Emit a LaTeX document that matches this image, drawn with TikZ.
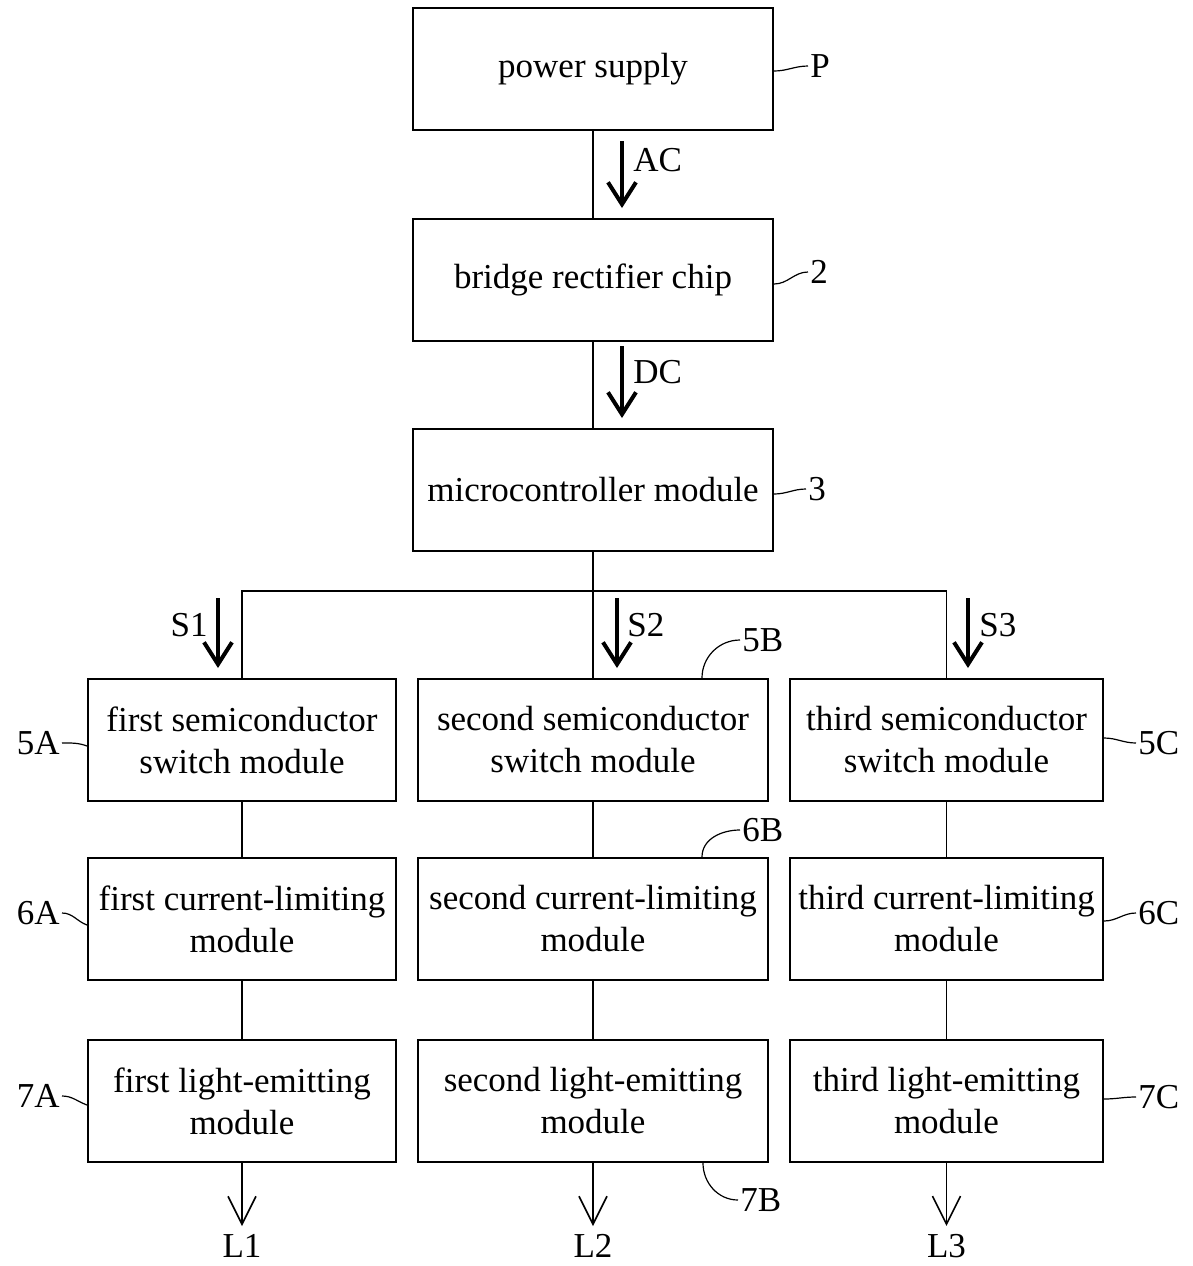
\documentclass[tikz,border=0pt]{standalone}
\usepackage{fontspec}
\setmainfont{Liberation Serif}
\usetikzlibrary{arrows.meta}
\begin{document}
\begin{tikzpicture}[x=0.5pt,y=-0.5pt,
  txt/.style={font=\fontsize{17.5}{21}\selectfont},
  box/.style={txt,draw,line width=1pt,minimum height=61pt,align=center,inner sep=0pt},
  topbox/.style={box,minimum width=180pt},
  boxA/.style={box,minimum width=154pt},
  boxB/.style={box,minimum width=175pt},
  boxC/.style={box,minimum width=156.5pt},
  conn/.style={line width=0.6pt},
  sig/.style={line width=2pt,-{Straight Barb[length=11pt,width=14pt,line width=2pt]}},
  outarr/.style={line width=0.7pt,-{Straight Barb[length=14pt,width=14pt,line width=0.8pt]}},
  lead/.style={line width=0.6pt},
  lbl/.style={txt,inner sep=1pt}]
\useasboundingbox (0,0) rectangle (1193,1266);

% top chain
\node[topbox] (psu) at (593,69) {power supply};
\node[topbox] (brc) at (593,280) {bridge rectifier chip};
\node[topbox] (mcu) at (593,490) {microcontroller module};
\draw[conn] (psu.south) -- (brc.north);
\draw[conn] (brc.south) -- (mcu.north);

% columns
\node[boxA] (sA) at (242,740) {first semiconductor\\switch module};
\node[boxB] (sB) at (593,740) {second semiconductor\\switch module};
\node[boxC] (sC) at (946.5,740) {third semiconductor\\switch module};
\node[boxA] (cA) at (242,919) {first current-limiting\\module};
\node[boxB] (cB) at (593,919) {second current-limiting\\module};
\node[boxC] (cC) at (946.5,919) {third current-limiting\\module};
\node[boxA] (eA) at (242,1101) {first light-emitting\\module};
\node[boxB] (eB) at (593,1101) {second light-emitting\\module};
\node[boxC] (eC) at (946.5,1101) {third light-emitting\\module};

% branch
\coordinate (br) at (593,591);
\draw[conn] (mcu.south) -- (br);
\draw[conn] (sA.north) |- (br) -| (sC.north);
\draw[conn] (br) -- (sB.north);
\foreach \c in {A,B,C}{
  \draw[conn] (s\c.south) -- (c\c.north);
  \draw[conn] (c\c.south) -- (e\c.north);
}

% signal arrows
\draw[sig] (622,141) -- (622,208);
\node[lbl,anchor=west] (tAC) at (631,160) {AC};
\draw[sig] (622,346) -- (622,418);
\node[lbl,anchor=west] (tDC) at (631,372) {DC};
\draw[sig] (218,598) -- (218,668);
\node[lbl,anchor=east] (tS1) at (210,625) {S1};
\draw[sig] (617,598) -- (617,668);
\node[lbl,anchor=west] (tS2) at (625,625) {S2};
\draw[sig] (968,598) -- (968,668);
\node[lbl,anchor=west] (tS3) at (977,625) {S3};

% outputs
\node[lbl] (L1) at (242,1246) {L1};
\node[lbl] (L2) at (593,1246) {L2};
\node[lbl] (L3) at (946.5,1246) {L3};
\draw[outarr] (eA.south) -- ([yshift=3pt]L1.north);
\draw[outarr] (eB.south) -- ([yshift=3pt]L2.north);
\draw[outarr] (eC.south) -- ([yshift=3pt]L3.north);

% reference labels
\node[lbl,anchor=west] (rP) at (808,66) {P};
\draw[lead] ([yshift=-1pt]psu.east) to[out=0,in=180] (rP.west);
\node[lbl,anchor=west] (r2) at (808,272) {2};
\draw[lead] ([yshift=-2pt]brc.east) to[out=0,in=180] (r2.west);
\node[lbl,anchor=west] (r3) at (806,489) {3};
\draw[lead] ([yshift=-2pt]mcu.east) to[out=0,in=180] (r3.west);

\node[lbl,anchor=east] (r5A) at (62,743) {5A};
\draw[lead] (r5A.east) to[out=0,in=160] ([yshift=-3pt]sA.west);
\node[lbl,anchor=east] (r6A) at (62,913) {6A};
\draw[lead] (r6A.east) to[out=0,in=160] ([yshift=-3pt]cA.west);
\node[lbl,anchor=east] (r7A) at (62,1096) {7A};
\draw[lead] (r7A.east) to[out=0,in=160] ([yshift=-2pt]eA.west);

\node[lbl,anchor=west] (r5C) at (1136,743) {5C};
\draw[lead] ([yshift=1pt]sC.east) to[out=0,in=180] (r5C.west);
\node[lbl,anchor=west] (r6C) at (1136,913) {6C};
\draw[lead] ([yshift=-1pt]cC.east) to[out=0,in=180] (r6C.west);
\node[lbl,anchor=west] (r7C) at (1136,1097) {7C};
\draw[lead] ([yshift=1pt]eC.east) to[out=0,in=180] (r7C.west);

\node[lbl,anchor=west] (r5B) at (740,640) {5B};
\draw[lead] ([xshift=54.5pt]sB.north) to[out=90,in=180] (r5B.west);
\node[lbl,anchor=west] (r6B) at (740,830) {6B};
\draw[lead] ([xshift=54.5pt]cB.north) to[out=90,in=180] (r6B.west);
\node[lbl,anchor=west] (r7B) at (738,1200) {7B};
\draw[lead] ([xshift=55pt]eB.south) to[out=-90,in=180] (r7B.west);
\end{tikzpicture}
\end{document}
